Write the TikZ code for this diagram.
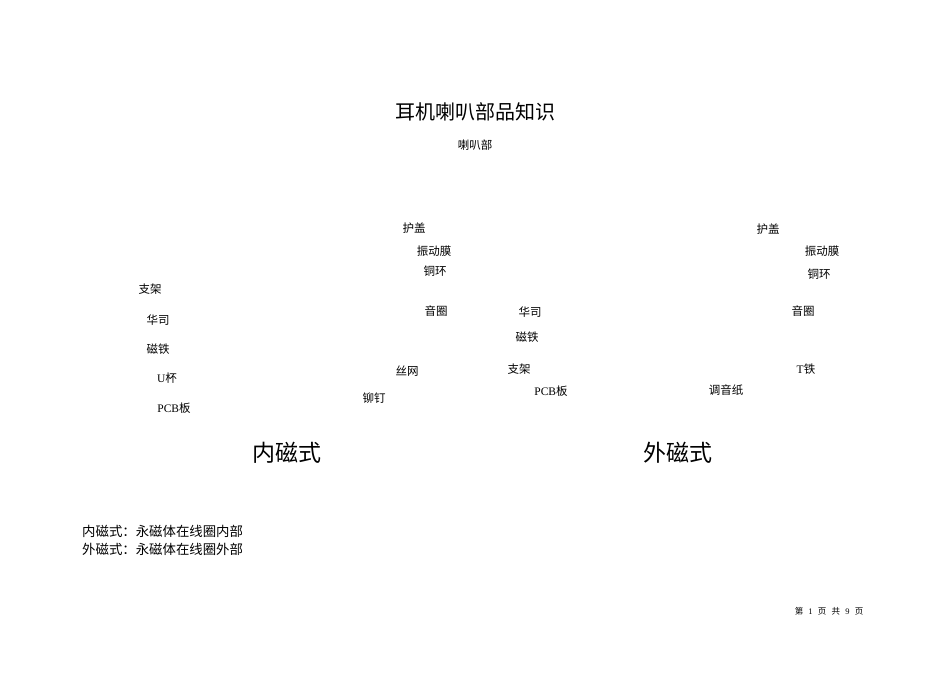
\documentclass[tikz,border=0pt]{standalone}
\usepackage{fontspec}
\setmainfont{Liberation Serif}
\newfontfamily\cjk{Noto Sans CJK SC}
\usetikzlibrary{positioning}
\tikzset{
    part/.style={font=\cjk\fontsize{11.5}{13}\selectfont, inner sep=0pt},
    title/.style={font=\cjk\fontsize{20}{23}\selectfont, inner sep=0pt},
    kind/.style={font=\cjk\fontsize{23}{26}\selectfont, inner sep=0pt},
    note/.style={font=\cjk\fontsize{13.4}{15}\selectfont, inner sep=0pt, anchor=west},
    pagenum/.style={font=\cjk\fontsize{8.5}{10}\selectfont, inner sep=0pt}
}
\newcommand{\gapsp}{\hspace{5.2pt}}

\begin{document}
\begin{tikzpicture}[x=1pt,y=-1pt]
	\useasboundingbox (0,0) rectangle (950,672);
	\node[title] (head) at (475,112) {耳机喇叭部品知识};
	\node[part] (sub) at (475,145) {喇叭部};
	% inner magnet
	\node[part] (zj1) at (150,289) {支架};
	\node[part] (hs1) at (158,320) {华司};
	\node[part] (ct1) at (158,349) {磁铁};
	\node[part] (ub1) at (167,378) {{\rmfamily U}杯};
	\node[part] (pcb1) at (174,408) {{\rmfamily PCB}板};
	\node[part] (hg1) at (414,228) {护盖};
	\node[part] (zdm1) at (434,251) {振动膜};
	\node[part] (th1) at (435,271) {铜环};
	\node[part] (yq1) at (436,311) {音圈};
	\node[part] (sw1) at (407,371) {丝网};
	\node[part] (md1) at (374,398) {铆钉};
	% outer magnet
	\node[part] (hs2) at (530,312) {华司};
	\node[part] (ct2) at (527,337) {磁铁};
	\node[part] (zj2) at (519,369) {支架};
	\node[part] (pcb2) at (551,391) {{\rmfamily PCB}板};
	\node[part] (hg2) at (768,229) {护盖};
	\node[part] (zdm2) at (822,251) {振动膜};
	\node[part] (th2) at (819,274) {铜环};
	\node[part] (yq2) at (803,311) {音圈};
	\node[part] (tt2) at (806,369) {{\rmfamily T}铁};
	\node[part] (tyz2) at (726,390) {调音纸};
	\node[kind] (nei) at (287,453) {内磁式};
	\node[kind] (wai) at (678,453) {外磁式};
	\node[note] (note1) at (82,531) {内磁式：永磁体在线圈内部};
	\node[note] (note2) at (82,549) {外磁式：永磁体在线圈外部};
	\node[pagenum] (foot) at (829,611) {第\gapsp{\rmfamily 1}\gapsp 页\gapsp 共\gapsp{\rmfamily 9}\gapsp 页};
\end{tikzpicture}
\end{document}
